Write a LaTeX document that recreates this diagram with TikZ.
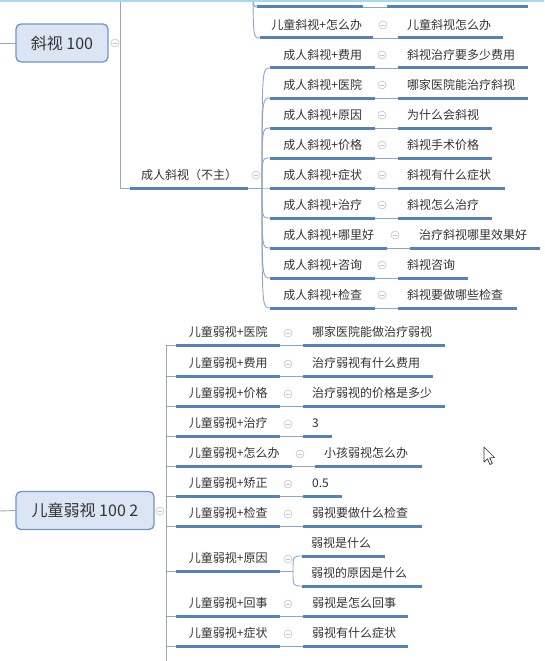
\documentclass[tikz,border=0pt]{standalone}
\usepackage{fontspec}
\setmainfont{Noto Sans CJK SC}
\usetikzlibrary{calc}
\definecolor{xmBlue}{HTML}{5582B8}
\definecolor{xmLink}{HTML}{8FA6C2}
\definecolor{xmSpine}{HTML}{98A6B6}
\definecolor{xmBoxFill}{HTML}{DCE5F3}
\definecolor{xmBoxLine}{HTML}{7096C8}
\definecolor{xmInk}{HTML}{333333}
\definecolor{xmFold}{HTML}{C4C4C8}
\definecolor{xmSky}{HTML}{A8D8EE}

\begin{document}
\begin{tikzpicture}[x=1pt,y=-1pt,line cap=round,line join=round]
\path[use as bounding box,fill=white] (0,0) rectangle (544,661);
\clip (0,0) rectangle (544,661);
\tikzset{uline/.style={draw=xmBlue,line width=3pt,line cap=butt},link/.style={draw=xmLink,line width=0.9pt},spine/.style={draw=xmSpine,line width=0.9pt},topic/.style={draw=xmBoxLine,fill=xmBoxFill,line width=1.3pt,rounded corners=5pt,text=xmInk,font=\fontsize{16}{19}\selectfont,minimum height=38pt,inner xsep=0pt},lbl/.style={anchor=south west,minimum height=25pt,inner sep=0pt,text=xmInk,font=\fontsize{12}{14}\selectfont},leaf/.style={lbl,inner xsep=9pt,align=left},fold/.style={circle,draw=xmFold,line width=0.6pt,minimum size=8pt,inner sep=0pt,path picture={\draw[xmFold,line width=0.6pt] ([xshift=-2pt]path picture bounding box.center) -- ([xshift=2pt]path picture bounding box.center);}}}
% squint topic
\coordinate (sqin) at (0,43); \coordinate (sqtop) at (120,-5);
\node[topic,minimum width=92pt] (sq) at (62,43) {斜视 100}; \node[fold] (fsq) at (115,43) {};
\draw[spine] (sqin) -- (sq.west);
\node[lbl,minimum width=118pt] (adult) at (130,188) {成人斜视（不主）}; \node[fold] (fadult) at (256,175) {};
\draw[spine] (sqtop) |- (adult.south west); \draw[uline] (adult.south west) -- (adult.south east);
\coordinate (adj) at (262,188); \draw[link] (adult.south east) -- (adj);
% child squint, mostly above the window
\coordinate (kidj) at (253,-30);
\node[lbl,minimum width=106pt] (k0) at (257,7) {}; \node[lbl,minimum width=141pt] (m0) at (387,7) {};
\node[lbl,minimum width=113pt] (k1) at (260,38) {儿童斜视+怎么办}; \node[fold] (fk1) at (383,25) {}; \node[leaf,text width=87pt] (m1) at (398,38) {儿童斜视怎么办};
\foreach \n in {0,1} {\draw[uline] (k\n.south west) -- (k\n.south east); \draw[uline] (m\n.south west) -- (m\n.south east); \draw[link] (k\n.south east) -- (m\n.south west); \draw[link] (kidj) .. controls (kidj |- k\n.south west) .. (k\n.south west);}
% adult squint rows
\node[lbl,minimum width=105pt] (a1) at (270,68) {成人斜视+费用}; \node[fold] (fa1) at (382,55) {}; \node[leaf,text width=112pt] (b1) at (398,68) {斜视治疗要多少费用};
\node[lbl,minimum width=105pt] (a2) at (270,98) {成人斜视+医院}; \node[fold] (fa2) at (382,85) {}; \node[leaf,text width=112pt] (b2) at (398,98) {哪家医院能治疗斜视};
\node[lbl,minimum width=105pt] (a3) at (270,128) {成人斜视+原因}; \node[fold] (fa3) at (382,115) {}; \node[leaf,text width=76pt] (b3) at (398,128) {为什么会斜视};
\node[lbl,minimum width=105pt] (a4) at (270,158) {成人斜视+价格}; \node[fold] (fa4) at (382,145) {}; \node[leaf,text width=76pt] (b4) at (398,158) {斜视手术价格};
\node[lbl,minimum width=105pt] (a5) at (270,188) {成人斜视+症状}; \node[fold] (fa5) at (382,175) {}; \node[leaf,text width=89pt] (b5) at (398,188) {斜视有什么症状};
\node[lbl,minimum width=105pt] (a6) at (270,218) {成人斜视+治疗}; \node[fold] (fa6) at (382,205) {}; \node[leaf,text width=76pt] (b6) at (398,218) {斜视怎么治疗};
\node[lbl,minimum width=117pt] (a7) at (270,248) {成人斜视+哪里好}; \node[fold] (fa7) at (395,235) {}; \node[leaf,text width=112pt] (b7) at (410,248) {治疗斜视哪里效果好};
\node[lbl,minimum width=105pt] (a8) at (270,278) {成人斜视+咨询}; \node[fold] (fa8) at (382,265) {}; \node[leaf,text width=52pt] (b8) at (398,278) {斜视咨询};
\node[lbl,minimum width=105pt] (a9) at (270,308) {成人斜视+检查}; \node[fold] (fa9) at (382,295) {}; \node[leaf,text width=101pt] (b9) at (398,308) {斜视要做哪些检查};
\foreach \n in {1,...,9} {\draw[uline] (a\n.south west) -- (a\n.south east); \draw[uline] (b\n.south west) -- (b\n.south east); \draw[link] (a\n.south east) -- (b\n.south west); \draw[link] (adj) .. controls (adj |- a\n.south west) .. (a\n.south west);}
% amblyopia topic
\coordinate (rsin) at (0,511); \coordinate (rsj) at (166,345); \coordinate (rsend) at (166,670);
\node[topic,minimum width=138pt] (rs) at (85,510.5) {儿童弱视 100 2}; \node[fold] (frs) at (160,511) {};
\draw[spine] (rsin) -- (rs.west); \draw[spine] (rsj) -- (rsend);
\node[lbl,minimum width=104pt] (c1) at (176,345) {儿童弱视+医院}; \node[fold] (fc1) at (288,333) {}; \node[leaf,text width=124pt] (d1) at (303,345) {哪家医院能做治疗弱视};
\node[lbl,minimum width=104pt] (c2) at (176,376) {儿童弱视+费用}; \node[fold] (fc2) at (288,364) {}; \node[leaf,text width=112pt] (d2) at (303,376) {治疗弱视有什么费用};
\node[lbl,minimum width=104pt] (c3) at (176,406) {儿童弱视+价格}; \node[fold] (fc3) at (288,394) {}; \node[leaf,text width=124pt] (d3) at (303,406) {治疗弱视的价格是多少};
\node[lbl,minimum width=104pt] (c4) at (176,436) {儿童弱视+治疗}; \node[fold] (fc4) at (288,424) {}; \node[leaf,text width=11pt] (d4) at (303,436) {3};
\node[lbl,minimum width=116pt] (c5) at (176,466) {儿童弱视+怎么办}; \node[fold] (fc5) at (300,454) {}; \node[leaf,text width=89pt] (d5) at (315,466) {小孩弱视怎么办};
\node[lbl,minimum width=104pt] (c6) at (176,496) {儿童弱视+矫正}; \node[fold] (fc6) at (288,484) {}; \node[leaf,text width=21pt] (d6) at (303,496) {0.5};
\node[lbl,minimum width=104pt] (c7) at (176,526) {儿童弱视+检查}; \node[fold] (fc7) at (288,514) {}; \node[leaf,text width=101pt] (d7) at (303,526) {弱视要做什么检查};
\node[lbl,minimum width=104pt] (c8) at (176,571) {儿童弱视+原因}; \node[fold] (fc8) at (288,559) {};
\node[leaf,text width=65pt] (e1) at (302,556) {弱视是什么}; \node[leaf,text width=102pt] (e2) at (302,586) {弱视的原因是什么};
\node[lbl,minimum width=104pt] (c9) at (176,616) {儿童弱视+回事}; \node[fold] (fc9) at (288,604) {}; \node[leaf,text width=87pt] (d9) at (303,616) {弱视是怎么回事};
\node[lbl,minimum width=104pt] (c10) at (176,646) {儿童弱视+症状}; \node[fold] (fc10) at (288,634) {}; \node[leaf,text width=87pt] (d10) at (303,646) {弱视有什么症状};
\foreach \n in {1,...,10} {\draw[uline] (c\n.south west) -- (c\n.south east); \draw[spine] (rsj |- c\n.south west) -- (c\n.south west);}
\foreach \n in {1,2,3,4,5,6,7,9,10} {\draw[uline] (d\n.south west) -- (d\n.south east); \draw[link] (c\n.south east) -- (d\n.south west);}
\coordinate (whyj) at (293,571); \draw[link] (c8.south east) -- (whyj);
\foreach \n in {1,2} {\draw[uline] (e\n.south west) -- (e\n.south east); \draw[link] (whyj) .. controls (whyj |- e\n.south west) .. (e\n.south west);}
% window edge and pointer
\draw[xmSky,line width=2pt] (0,1) -- (544,1);
\draw[fill=white,draw=black!80,line width=0.7pt] (484,447) -- (484,462) -- (487.5,458.8) -- (490,464.5) -- (492.3,463.5) -- (489.8,458) -- (494.5,457.5) -- cycle;
\end{tikzpicture}
\end{document}
